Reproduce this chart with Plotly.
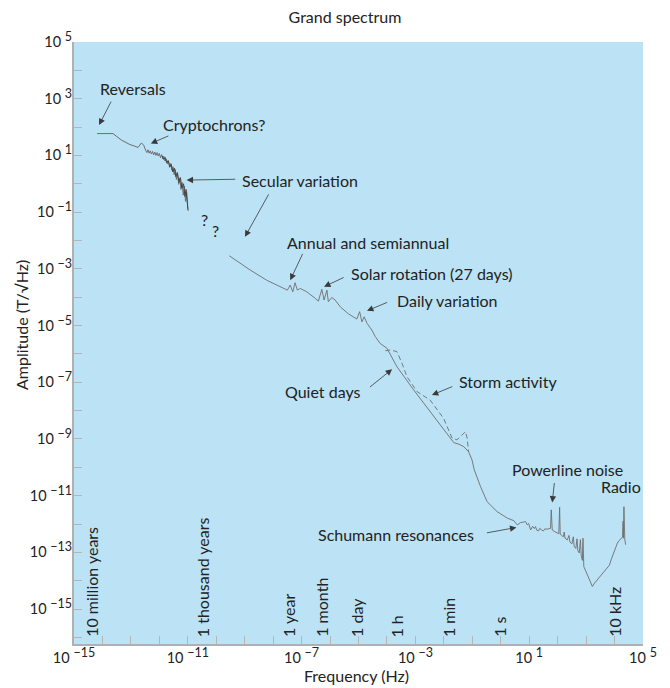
import plotly.graph_objects as go

# ---------------- data (log10 values) ----------------
# low-frequency part: reversals, cryptochrons, secular variation
low_logf = [-14.19, -13.63, -13.33, -13.04, -12.86, -12.75, -12.63, -12.55,
            -12.48, -12.44, -12.40, -12.36, -12.32, -12.28, -12.24, -12.20,
            -12.16, -12.12, -12.08, -12.04, -12.00, -11.96, -11.92, -11.88,
            -11.84, -11.80, -11.76, -11.72, -11.68, -11.64, -11.60, -11.56,
            -11.52, -11.48, -11.44, -11.40, -11.36, -11.32, -11.28, -11.24,
            -11.20, -11.16, -11.12, -11.08, -11.04, -11.00]
low_logA = [1.77, 1.77, 1.54, 1.385, 1.325, 1.28, 1.44, 1.36,
            1.18, 1.10, 1.20, 1.08, 1.16, 1.05, 1.14, 1.02,
            1.12, 1.00, 1.10, 0.98, 1.07, 0.92, 1.03, 0.88,
            0.97, 0.80, 0.88, 0.70, 0.80, 0.58, 0.72, 0.48,
            0.60, 0.32, 0.50, 0.15, 0.36, -0.02, 0.20, -0.20,
            0.05, -0.40, -0.08, -0.62, -0.30, -0.88]

# second record overlapping the secular variation band
sv_logf = [-11.90, -11.85, -11.80, -11.74, -11.69, -11.63, -11.58, -11.53,
           -11.47, -11.42, -11.37, -11.31, -11.26, -11.21, -11.15, -11.10,
           -11.06, -11.02, -10.99]
sv_logA = [0.98, 0.86, 0.93, 0.74, 0.82, 0.60, 0.68, 0.42,
           0.55, 0.25, 0.40, 0.05, 0.22, -0.15, 0.00, -0.45,
           -0.20, -0.70, -0.95]

# quiet-time spectrum from secular variation to radio frequencies
quiet_logf = [-9.54, -8.81, -8.23, -7.64, -7.50, -7.40, -7.31, -7.23, -7.15,
              -7.05, -6.82, -6.52, -6.41, -6.29, -6.21, -6.11, -6.06, -5.94,
              -5.82, -5.64, -5.35, -5.06, -4.96, -4.88, -4.80, -4.70, -4.53,
              -4.41, -4.24, -4.00, -3.94, -3.65, -3.06, -2.48, -2.01, -1.65,
              -1.48, -1.30, -1.13, -1.01, -0.93, -0.71, -0.48, -0.13, 0.23,
              0.46, 0.58, 0.69, 0.80, 0.87, 0.93, 0.98, 1.05, 1.12, 1.18,
              1.22, 1.27, 1.33, 1.37, 1.40, 1.45, 1.50, 1.55, 1.63, 1.70,
              1.75, 1.775, 1.79, 1.81, 1.90, 1.99, 2.04, 2.07, 2.09, 2.14,
              2.20, 2.23, 2.26, 2.34, 2.40, 2.43, 2.50, 2.55, 2.58, 2.64,
              2.68, 2.71, 2.76, 2.80, 2.83, 2.87, 2.89, 2.92, 3.04, 3.13,
              3.22, 3.30, 3.39, 3.45, 3.50, 3.57, 3.62, 3.68, 3.75, 3.82,
              3.88, 3.92, 3.98, 4.05, 4.10, 4.16, 4.22, 4.28, 4.30, 4.31,
              4.33, 4.34, 4.35, 4.36, 4.39]
quiet_logA = [-2.54, -3.04, -3.40, -3.69, -3.75, -3.57, -3.81, -3.49, -3.75,
              -3.69, -3.81, -4.04, -4.14, -3.72, -4.10, -3.75, -4.16, -4.01,
              -4.10, -4.34, -4.59, -4.77, -4.51, -4.87, -4.69, -4.92, -5.16,
              -5.39, -5.63, -5.80, -5.92, -6.45, -7.27, -8.04, -8.68, -9.13,
              -9.18, -9.27, -9.45, -9.74, -10.09, -10.68, -11.21, -11.56, -11.79,
              -11.88, -12.03, -11.95, -11.93, -11.91, -12.03, -11.98, -12.21, -12.08, -12.16,
              -12.09, -12.22, -12.24, -12.15, -12.18, -12.22, -12.24, -12.17, -12.18, -12.16,
              -12.15, -11.50, -12.18, -12.21, -12.27, -12.32, -12.34, -11.41, -12.36, -12.40,
              -12.45, -12.28, -12.50, -12.56, -12.40, -12.63, -12.70, -12.45, -12.78, -12.86,
              -12.52, -12.94, -13.02, -12.55, -13.12, -13.28, -12.50, -13.50, -13.79, -14.00,
              -14.20, -14.08, -13.97, -13.92, -13.87, -13.76, -13.70, -13.62, -13.56, -13.45,
              -13.26, -13.15, -13.00, -12.80, -12.67, -12.58, -12.52, -12.46, -11.90, -12.50,
              -11.39, -12.45, -11.70, -12.55, -12.73]

# storm-time spectrum (dashed)
storm_logf = [-4.06, -3.88, -3.65, -3.47, -3.30, -2.94, -2.48, -2.01, -1.71,
              -1.54, -1.36, -1.24, -1.18, -1.13]
storm_logA = [-5.89, -5.86, -5.92, -6.33, -6.80, -7.33, -7.63, -8.27, -8.97,
              -9.03, -8.86, -8.74, -8.97, -9.45]

# period labels along the bottom
period_labels = ["10 million years", "1 thousand years", "1 year", "1 month",
                 "1 day", "1 h", "1 min", "1 s", "10 kHz"]
period_logf = [-14.38, -10.50, -7.47, -6.28, -5.08, -3.67, -1.84, -0.04, 4.00]

# labelled features: text, text x/y (log10), anchor
feature_text = ["Reversals", "Cryptochrons?", "Secular variation", "?", "?",
                "Annual and semiannual", "Solar rotation (27 days)",
                "Daily variation", "Quiet days", "Storm activity",
                "Powerline noise", "Radio", "Schumann resonances"]
feature_logf = [-14.17, -11.95, -9.17, -10.43, -10.01, -7.58, -5.35, -3.73,
                -4.86, -1.54, 0.34, 3.45, -0.86]
feature_logA = [3.37, 2.09, 0.13, -1.25, -1.64, -2.08, -3.16, -4.10, -7.33,
                -6.96, -10.07, -10.66, -12.38]
feature_anchor = ["left", "left", "left", "center", "center", "left", "left",
                  "left", "right", "left", "left", "left", "right"]

# arrows: tail (log f, log A) -> head (log f, log A)
arrow_tail_logf = [-13.67, -11.63, -9.28, -8.13, -6.94, -5.47, -3.94, -4.65, -1.65, 1.89, -0.54]
arrow_tail_logA = [2.95, 1.71, 0.16, -0.32, -2.42, -3.28, -4.16, -7.21, -7.13, -10.50, -12.32]
arrow_head_logf = [-14.12, -12.30, -11.04, -8.99, -7.40, -6.21, -4.70, -3.82, -2.42, 1.81, 0.55]
arrow_head_logA = [2.07, 1.42, 0.13, -1.87, -3.40, -3.63, -4.48, -6.54, -7.45, -11.24, -12.12]

x_tick_exp = list(range(-15, 6))
y_tick_exp = list(range(-16, 6))

# ---------------- figure ----------------
FONT = "Lato"
FS = 16
TXT = "#222222"
LINE = "#6e6e6e"

# the page body adds an 8 px offset, so the figure is sized to the visible area
W, H = 662, 680
ML, MR, MT, MB = 66, 27, 34, 44
PW, PH = W - ML - MR, H - MT - MB

def pw(v):
    return [10 ** e for e in v]

fig = go.Figure()
fig.add_trace(go.Scatter(x=pw(low_logf), y=pw(low_logA), mode="lines",
                         line=dict(color=LINE, width=1), hoverinfo="skip"))
fig.add_trace(go.Scatter(x=pw(sv_logf), y=pw(sv_logA), mode="lines",
                         line=dict(color="#444444", width=1), hoverinfo="skip"))
fig.add_trace(go.Scatter(x=pw(quiet_logf), y=pw(quiet_logA), mode="lines",
                         line=dict(color=LINE, width=0.9), hoverinfo="skip"))
fig.add_trace(go.Scatter(x=pw(storm_logf), y=pw(storm_logA), mode="lines",
                         line=dict(color=LINE, width=0.9, dash="5px,3px"),
                         hoverinfo="skip"))

def sup(e):
    s = str(e).replace("-", "\u2212")
    return "10 <sup><span style='font-size:12.5px'>" + s + "</span></sup>"

x_text = [sup(e) if (e + 15) % 4 == 0 else "" for e in x_tick_exp]
y_text = [sup(e) if (e - 5) % 2 == 0 else "" for e in y_tick_exp]

annotations = []
for t, fx, fy, anc in zip(feature_text, feature_logf, feature_logA, feature_anchor):
    annotations.append(dict(x=fx, y=fy, xref="x", yref="y", text=t,
                            showarrow=False, xanchor=anc, yanchor="middle",
                            font=dict(family=FONT, size=FS, color=TXT)))
for tx, ty, hx, hy in zip(arrow_tail_logf, arrow_tail_logA, arrow_head_logf, arrow_head_logA):
    annotations.append(dict(x=hx, y=hy, ax=tx, ay=ty, xref="x", yref="y",
                            axref="x", ayref="y", text="", showarrow=True,
                            arrowhead=2, arrowsize=1.6, arrowwidth=0.8,
                            arrowcolor="#3a3a3a", standoff=0, startstandoff=0))
for t, fx in zip(period_labels, period_logf):
    annotations.append(dict(x=fx, y=-16.06, xref="x", yref="y", text=t,
                            showarrow=False, textangle=-90, xanchor="center",
                            yanchor="bottom",
                            font=dict(family=FONT, size=FS, color=TXT)))
# axis titles (page pixels converted to paper fractions)
annotations.append(dict(x=(356 - 8 - ML) / PW, y=(MT + PH - (676 - 8)) / PH,
                        xref="paper", yref="paper",
                        text="Frequency (Hz)", showarrow=False,
                        xanchor="center", yanchor="middle",
                        font=dict(family=FONT, size=FS, color=TXT)))
annotations.append(dict(x=(21 - 8 - ML) / PW, y=(MT + PH - (325 - 8)) / PH,
                        xref="paper", yref="paper",
                        text="Amplitude (T/\u221aHz)", showarrow=False,
                        textangle=-90, xanchor="center", yanchor="middle",
                        font=dict(family=FONT, size=FS, color=TXT)))

fig.update_layout(
    width=W, height=H,
    margin=dict(l=ML, r=MR, t=MT, b=MB, autoexpand=False),
    paper_bgcolor="white",
    plot_bgcolor="#BCE2F5",
    showlegend=False,
    title=dict(text="Grand spectrum", x=(345 - 8) / W, xref="container",
               y=1 - (17 - 8) / H, yref="container", xanchor="center",
               yanchor="middle", font=dict(family=FONT, size=FS, color=TXT)),
    annotations=annotations,
)
fig.update_xaxes(type="log", range=[-15, 5], showgrid=False, zeroline=False,
                 automargin=False,
                 tickvals=pw(x_tick_exp), ticktext=x_text,
                 ticks="inside", ticklen=8, tickcolor="#b5b5b5", tickwidth=1,
                 showline=True, linecolor="#b0b0b0", linewidth=2,
                 tickfont=dict(family=FONT, size=14.5, color=TXT))
fig.update_yaxes(type="log", range=[-16.23, 5], showgrid=False, zeroline=False,
                 automargin=False, ticklabelstandoff=-3,
                 tickvals=pw(y_tick_exp), ticktext=y_text,
                 ticks="inside", ticklen=8, tickcolor="#b5b5b5", tickwidth=1,
                 showline=True, linecolor="#b0b0b0", linewidth=2,
                 tickfont=dict(family=FONT, size=14.5, color=TXT))

fig.write_html("out.html")
